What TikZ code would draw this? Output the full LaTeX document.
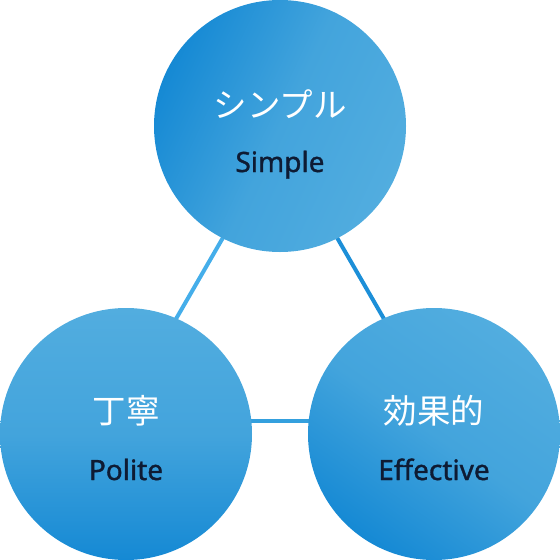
\documentclass[tikz,border=0pt]{standalone}
\usepackage{fontspec}
\setmainfont{Noto Sans}
\newfontfamily\enfont{Noto Sans}[FakeBold=1.2]
\newfontfamily\jpfont{Noto Sans CJK JP}
\definecolor{cdark}{HTML}{1589D4}
\definecolor{clight}{HTML}{52ADDF}
\definecolor{lineleft}{HTML}{45AEEA}
\definecolor{lineright}{HTML}{1C8FD8}
\definecolor{linebottom}{HTML}{34A0DE}
\definecolor{entext}{HTML}{0E1B33}
\tikzset{
  ball/.style={circle, minimum size=252pt, inner sep=0pt, draw=none},
  jplabel/.style={font=\jpfont\fontsize{33.5}{33.5}\selectfont, text=white, inner sep=0pt},
  enlabel/.style={font=\enfont\fontsize{28}{28}\selectfont, text=entext, inner sep=0pt, anchor=base},
  edge/.style={line width=4pt},
}
\begin{document}
\begin{tikzpicture}[x=1pt,y=-1pt]
\useasboundingbox (0,0) rectangle (560,560);
% triangle corners behind the circles
\coordinate (ta) at (280,139);
\coordinate (tl) at (117,421);
\coordinate (tr) at (443,421);
\draw[edge, lineleft] (ta) -- (tl);
\draw[edge, lineright] (ta) -- (tr);
\draw[edge, linebottom] (tl) -- (tr);
% circles
\node[ball, top color=clight, bottom color=cdark, middle color=clight!75!cdark, shading angle=-115] (simple) at (280,126) {};
\node[ball, top color=clight, bottom color=cdark, middle color=clight!75!cdark, shading angle=0] (polite) at (126,434) {};
\node[ball, top color=clight, bottom color=cdark, middle color=clight!75!cdark, shading angle=-35] (effective) at (434,434) {};
% labels
\node[jplabel] (simplej) at (280,104) {シンプル};
\node[enlabel] (simplee) at (280,172) {Simple};
\node[jplabel] (politej) at (126,411) {丁寧};
\node[enlabel] (politee) at (126,480) {Polite};
\node[jplabel] (effectivej) at (434,411) {効果的};
\node[enlabel] (effectivee) at (434,480) {Effective};
\end{tikzpicture}
\end{document}
